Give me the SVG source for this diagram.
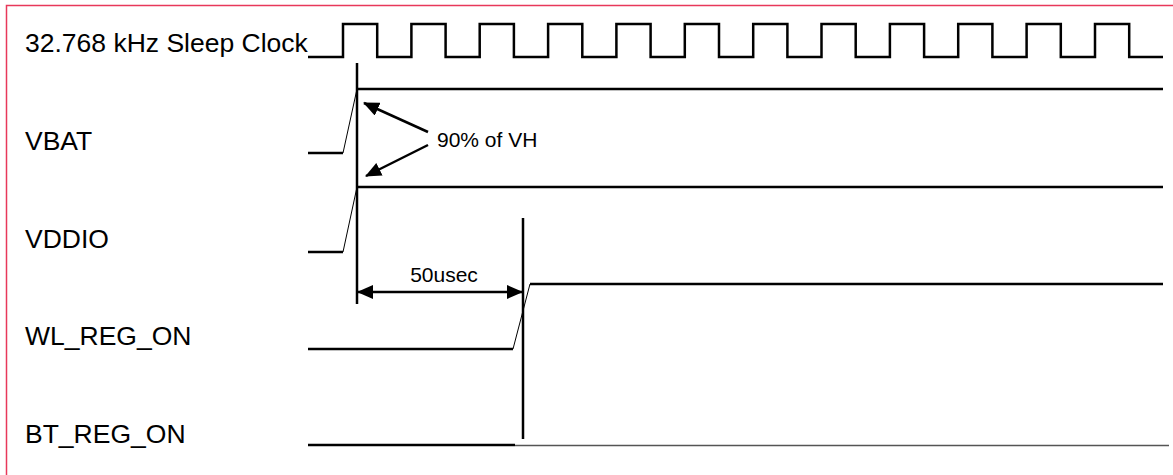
<svg xmlns="http://www.w3.org/2000/svg" width="1173" height="475" viewBox="0 0 1173 475">
<style>
.lbl{font-family:"Liberation Sans",Arial,sans-serif;font-size:26.5px;fill:#000}
.note{font-family:"Liberation Sans",Arial,sans-serif;font-size:21px;fill:#000}
.sig{fill:none;stroke:#000;stroke-width:2.5;stroke-linejoin:miter}
.ramp{fill:none;stroke:#000;stroke-width:1}
.arr{fill:none;stroke:#000;stroke-width:2.5}
</style>
<defs>
<marker id="ah" viewBox="0 0 16 14" refX="15" refY="7" markerWidth="16" markerHeight="14" markerUnits="userSpaceOnUse" orient="auto-start-reverse">
<path d="M0,0 L16,7 L0,14 Z" fill="#000"/>
</marker>
</defs>
<rect width="1173" height="475" fill="#fff"/>
<path d="M6.5,475 V5.5 H1173" fill="none" stroke="#e8385a" stroke-width="1.5"/>

<g id="clock">
<text class="lbl" x="25" y="52">32.768 kHz Sleep Clock</text>
<path class="sig" d="M308,57 H343 V24 H377.2 V57 H411.4 V24 H445.6 V57 H479.7 V24 H513.9 V57 H548.1 V24 H582.3 V57 H616.4 V24 H650.6 V57 H684.8 V24 H719 V57 H753.2 V24 H787.4 V57 H821.5 V24 H855.7 V57 H889.9 V24 H924.1 V57 H958.2 V24 H992.4 V57 H1026.6 V24 H1060.8 V57 H1095 V24 H1129.2 V57 H1163"/>
</g>

<g id="vbat">
<text class="lbl" x="25" y="150">VBAT</text>
<path class="sig" d="M308,153 H343"/>
<path class="ramp" d="M343,153 L357,89"/>
<path class="sig" d="M357,89 H1163"/>
</g>

<g id="vddio">
<text class="lbl" x="25" y="248">VDDIO</text>
<path class="sig" d="M308,252 H343"/>
<path class="ramp" d="M343,252 L357,187"/>
<path class="sig" d="M357,187 H1163"/>
</g>

<g id="wl_reg_on">
<text class="lbl" x="25" y="345">WL_REG_ON</text>
<path class="sig" d="M308,349 H513"/>
<path class="ramp" d="M513,349 L530,284"/>
<path class="sig" d="M530,284 H1163"/>
</g>

<g id="bt_reg_on">
<text class="lbl" x="25" y="443">BT_REG_ON</text>
<path class="sig" d="M308,445 H515"/>
<path d="M515,445.5 H1169" stroke="#555" stroke-width="1.5" fill="none"/>
</g>

<g id="markers">
<path class="sig" d="M357,63 V304"/>
<path class="sig" d="M523,218 V439"/>
</g>

<g id="connectors">
<path class="arr" d="M428,132 L364,103" marker-end="url(#ah)"/>
<path class="arr" d="M428,145 L366,176" marker-end="url(#ah)"/>
<path class="arr" d="M358,292 L522,292" marker-start="url(#ah)" marker-end="url(#ah)"/>
</g>

<g id="labels">
<text class="note" x="437" y="147">90% of VH</text>
<text class="note" x="444" y="282" text-anchor="middle">50usec</text>
</g>
</svg>
